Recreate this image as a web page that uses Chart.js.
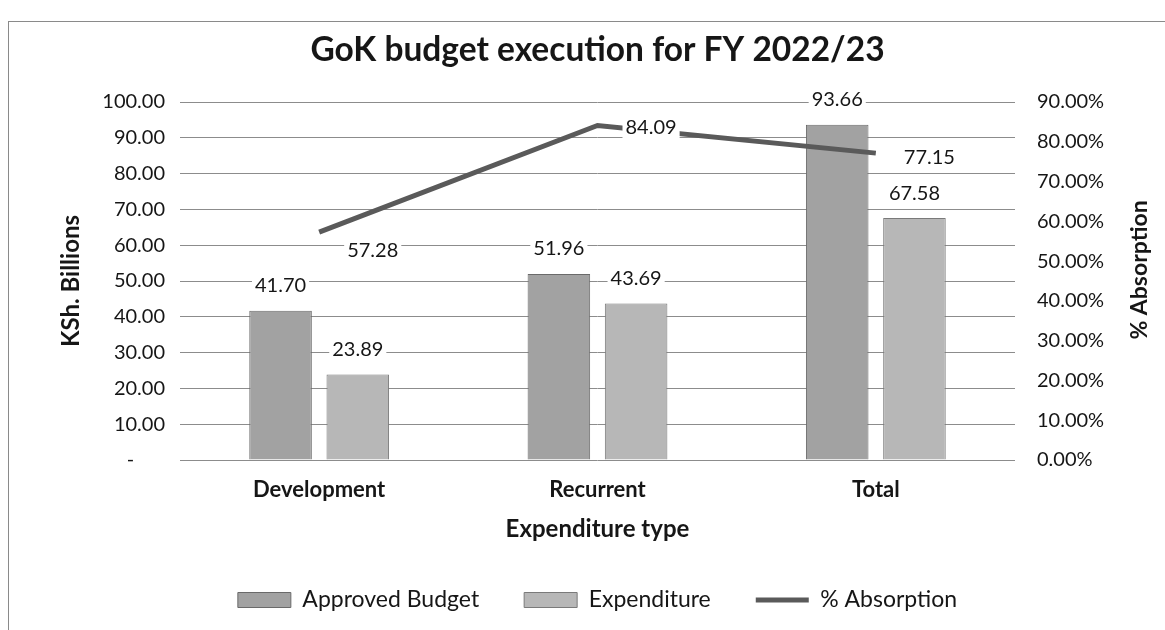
<!DOCTYPE html>
<html>
<head>
<meta charset="utf-8">
<script src="https://cdn.jsdelivr.net/npm/chart.js@4"></script>
<style>
  html, body { margin: 0; padding: 0; background: #fff; }
  #wrap { width: 1165px; height: 630px; position: relative; }
</style>
</head>
<body>
<div id="wrap"><canvas id="chart"></canvas></div>
<script>
// data
const categories = ['Development', 'Recurrent', 'Total'];
const approvedBudget = [41.70, 51.96, 93.66];
const expenditure = [23.89, 43.69, 67.58];
const absorption = [57.28, 84.09, 77.15];

const FONT = 'Lato';
const INK = '#161616';

// outer frame + white page
const frame = {
  id: 'frame',
  beforeDraw(chart) {
    const ctx = chart.ctx;
    ctx.save();
    ctx.fillStyle = '#fff';
    ctx.fillRect(0, 0, chart.width, chart.height);
    ctx.strokeStyle = '#8a8a8a';
    ctx.lineWidth = 1;
    ctx.strokeRect(8.5, 21.5, 1170, 640);
    ctx.restore();
  }
};

// value labels with a white box behind them, like Excel
const lineDy = [18, 2, 4];
const valueLabels = {
  id: 'valueLabels',
  afterDatasetsDraw(chart) {
    const ctx = chart.ctx;
    ctx.save();
    ctx.font = `20px ${FONT}`;
    ctx.textAlign = 'center';
    ctx.textBaseline = 'middle';
    chart.data.datasets.forEach((ds, i) => {
      const meta = chart.getDatasetMeta(i);
      meta.data.forEach((el, j) => {
        const txt = ds.data[j].toFixed(2);
        const w = ctx.measureText(txt).width;
        let x, y;
        if (ds.type === 'line') {
          x = el.x + 28 + w / 2;
          y = el.y + lineDy[j];
        } else {
          x = el.x;
          y = el.y - 25;
        }
        ctx.fillStyle = '#fff';
        ctx.fillRect(x - w / 2 - 3, y - 11, w + 6, 22);
        ctx.fillStyle = INK;
        ctx.fillText(txt, x, y);
      });
    });
    // right axis title, reads bottom to top
    const a = chart.chartArea;
    ctx.translate(1140, (a.top + a.bottom) / 2 - 11);
    ctx.rotate(-Math.PI / 2);
    ctx.font = `bold 23px ${FONT}`;
    ctx.fillText('% Absorption', 0, 0);
    ctx.restore();
  }
};

new Chart(document.getElementById('chart'), {
  data: {
    labels: categories,
    datasets: [
      {
        type: 'bar',
        label: 'Approved Budget',
        data: approvedBudget,
        yAxisID: 'y',
        backgroundColor: '#a2a2a2',
        borderColor: '#6a6a6a',
        borderWidth: 1,
        pointStyle: 'rect',
        categoryPercentage: 0.555,
        barPercentage: 0.81,
        order: 1
      },
      {
        type: 'bar',
        label: 'Expenditure',
        data: expenditure,
        yAxisID: 'y',
        backgroundColor: '#b7b7b7',
        borderColor: '#7a7a7a',
        borderWidth: 1,
        pointStyle: 'rect',
        categoryPercentage: 0.555,
        barPercentage: 0.81,
        order: 1
      },
      {
        type: 'line',
        label: '% Absorption',
        data: absorption,
        yAxisID: 'y1',
        borderColor: '#5a5a5a',
        backgroundColor: '#5a5a5a',
        borderWidth: 5,
        pointRadius: 0,
        pointStyle: 'line',
        tension: 0,
        order: 0
      }
    ]
  },
  options: {
    responsive: true,
    maintainAspectRatio: false,
    animation: false,
    layout: { padding: { top: 10, left: 40, right: 10, bottom: 8.5 } },
    plugins: {
      title: {
        display: true,
        text: 'GoK budget execution for FY 2022/23',
        color: INK,
        font: { family: FONT, size: 33.5, weight: 'bold', lineHeight: 1.2 },
        padding: { top: 20, bottom: 31.8 }
      },
      legend: {
        position: 'bottom',
        labels: {
          color: INK,
          font: { family: FONT, size: 23 },
          usePointStyle: true,
          pointStyleWidth: 53,
          boxHeight: 15,
          padding: 45,
          sort: (a, b) => a.datasetIndex - b.datasetIndex
        }
      },
      tooltip: { enabled: false }
    },
    scales: {
      x: {
        grid: { display: false, drawTicks: false },
        border: { display: false },
        ticks: { color: INK, padding: 17, font: { family: FONT, size: 22, weight: 'bold' } },
        title: {
          display: true,
          text: 'Expenditure type',
          color: INK,
          font: { family: FONT, size: 24, weight: 'bold', lineHeight: 1.2 },
          padding: { top: 0, bottom: 0 }
        },
        afterFit(scale) { scale.height = 83.5; }
      },
      y: {
        position: 'left',
        min: 0,
        max: 100,
        ticks: {
          stepSize: 10,
          color: INK,
          padding: 15,
          font: { family: FONT, size: 20 },
          callback: v => v === 0 ? '-      ' : v.toFixed(2)
        },
        grid: { color: '#8c8c8c', lineWidth: 1, drawTicks: false },
        border: { display: false },
        title: {
          display: true,
          text: 'KSh. Billions',
          color: INK,
          font: { family: FONT, size: 24, weight: 'bold', lineHeight: 1.2 },
          padding: { top: 17, bottom: 0 }
        },
        afterFit(scale) { scale.width = 140; }
      },
      y1: {
        position: 'right',
        min: 0,
        max: 90,
        ticks: {
          stepSize: 10,
          color: INK,
          padding: 22,
          font: { family: FONT, size: 20 },
          callback: v => v.toFixed(2) + '%'
        },
        grid: { display: false, drawTicks: false },
        border: { display: false },
        afterFit(scale) { scale.width = 140; }
      }
    }
  },
  plugins: [frame, valueLabels]
});
</script>
</body>
</html>
